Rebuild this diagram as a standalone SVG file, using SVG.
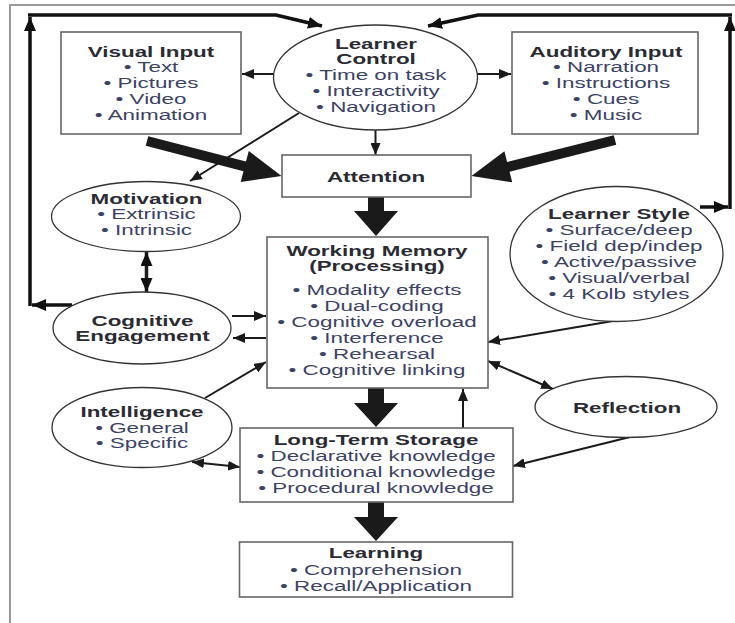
<svg xmlns="http://www.w3.org/2000/svg" width="735" height="623" viewBox="0 0 735 623">
<defs>
<style>
text{font-family:"Liberation Sans",Arial,sans-serif;font-size:14px;text-anchor:middle}
.t{font-weight:bold;fill:#2b2b33}
.i{fill:#3c4266}
.box{fill:#fff;stroke:#666;stroke-width:1.6}
.ell{fill:#fff;stroke:#333;stroke-width:1.3}
.thin{fill:none;stroke:#1a1a1a;stroke-width:2;marker-end:url(#ah)}
.dbl{fill:none;stroke:#1a1a1a;stroke-width:2;marker-end:url(#ah);marker-start:url(#ahs)}
.dblb{fill:none;stroke:#1a1a1a;stroke-width:3.5;marker-end:url(#ahb);marker-start:url(#ahbs)}
.fba{fill:none;stroke:#111;stroke-width:3.5;marker-end:url(#ahb)}
.big{fill:#1a1a1a}
</style>
<marker id="ah" viewBox="0 0 12 10" refX="12" refY="5" markerWidth="12" markerHeight="10" markerUnits="userSpaceOnUse" orient="auto"><path d="M0,0 L12,5 L0,10 Z" fill="#1a1a1a"/></marker>
<marker id="ahs" viewBox="0 0 12 10" refX="0" refY="5" markerWidth="12" markerHeight="10" markerUnits="userSpaceOnUse" orient="auto"><path d="M12,0 L0,5 L12,10 Z" fill="#1a1a1a"/></marker>
<marker id="ahb" viewBox="0 0 14 12" refX="14" refY="6" markerWidth="14" markerHeight="12" markerUnits="userSpaceOnUse" orient="auto"><path d="M0,0 L14,6 L0,12 Z" fill="#111"/></marker>
<marker id="ahbs" viewBox="0 0 14 12" refX="0" refY="6" markerWidth="14" markerHeight="12" markerUnits="userSpaceOnUse" orient="auto"><path d="M14,0 L0,6 L14,12 Z" fill="#111"/></marker>
</defs>
<rect width="735" height="623" fill="#fff"/>
<path d="M10,623 L10,5 L735,5" fill="none" stroke="#9a9a9a" stroke-width="2"/>

<g id="connectors">
<path class="fba" d="M72,305 L32,305"/>
<path class="fba" d="M30,306 L30,17"/>
<path class="fba" d="M28,15 L276,15 L322,26"/>
<path class="fba" d="M700,207 L728,207"/>
<path class="fba" d="M730,209 L730,17"/>
<path class="fba" d="M732,15 L478,15 L428,26"/>
<path class="thin" d="M274,74 L242,74"/>
<path class="thin" d="M477,74 L511,74"/>
<path class="thin" d="M375.5,130 L375.5,155"/>
<path class="thin" d="M299,113 L190,181"/>
<polygon class="big" transform="translate(147,141) rotate(14.6)" points="0,-5 101,-5 101,-16 139,0 101,16 101,5 0,5"/>
<polygon class="big" transform="translate(615,140) rotate(165.9)" points="0,-5 110,-5 110,-16 148,0 110,16 110,5 0,5"/>
<polygon class="big" points="368,197 384,197 384,211 398,211 376,236 354,211 368,211"/>
<polygon class="big" points="368,388 384,388 384,403 398,403 376,427 354,403 368,403"/>
<polygon class="big" points="368,502 384,502 384,517 398,517 376,541 354,517 368,517"/>
<path class="dblb" d="M146.5,252 L146.5,292"/>
<path class="thin" d="M232,316 L266,316"/>
<path class="thin" d="M266,338 L233,338"/>
<path class="thin" d="M613,321 L488,342"/>
<path class="dbl" d="M488,361 L553,389"/>
<path class="thin" d="M630,437 L513,466"/>
<path class="thin" d="M463,428 L463,389"/>
<path class="thin" d="M205,398 L266,362"/>
<path class="dbl" d="M192,462 L240,467"/>
</g>

<g id="visual-input">
<rect class="box" x="61" y="32" width="180" height="102"/>
<g transform="translate(151,0) scale(1.6 1)">
<text class="t" x="0" y="57">Visual Input</text>
<text class="i" x="0" y="72.5">• Text</text>
<text class="i" x="0" y="88.5">• Pictures</text>
<text class="i" x="0" y="104">• Video</text>
<text class="i" x="0" y="120">• Animation</text>
</g>
</g>

<g id="learner-control">
<ellipse class="ell" cx="375.5" cy="77.5" rx="102" ry="52.5"/>
<g transform="translate(376,0) scale(1.6 1)">
<text class="t" x="0" y="49">Learner</text>
<text class="t" x="0" y="64">Control</text>
<text class="i" x="0" y="80">• Time on task</text>
<text class="i" x="0" y="96">• Interactivity</text>
<text class="i" x="0" y="112">• Navigation</text>
</g>
</g>

<g id="auditory-input">
<rect class="box" x="512" y="32" width="186" height="102"/>
<g transform="translate(606,0) scale(1.6 1)">
<text class="t" x="0" y="57">Auditory Input</text>
<text class="i" x="0" y="72.5">• Narration</text>
<text class="i" x="0" y="88.5">• Instructions</text>
<text class="i" x="0" y="104">• Cues</text>
<text class="i" x="0" y="120">• Music</text>
</g>
</g>

<g id="attention">
<rect class="box" x="282" y="155" width="189" height="42"/>
<g transform="translate(376,0) scale(1.6 1)">
<text class="t" x="0" y="182">Attention</text>
</g>
</g>

<g id="motivation">
<ellipse class="ell" cx="146" cy="216.5" rx="94.5" ry="35"/>
<g transform="translate(146.5,0) scale(1.6 1)">
<text class="t" x="0" y="204">Motivation</text>
<text class="i" x="0" y="219.5">• Extrinsic</text>
<text class="i" x="0" y="235">• Intrinsic</text>
</g>
</g>

<g id="cognitive-engagement">
<ellipse class="ell" cx="142" cy="328" rx="89" ry="36"/>
<g transform="translate(142.5,0) scale(1.6 1)">
<text class="t" x="0" y="326">Cognitive</text>
<text class="t" x="0" y="341">Engagement</text>
</g>
</g>

<g id="working-memory">
<rect class="box" x="267" y="237" width="221" height="151"/>
<g transform="translate(377,0) scale(1.6 1)">
<text class="t" x="0" y="256">Working Memory</text>
<text class="t" x="0" y="271.5">(Processing)</text>
<text class="i" x="0" y="295">• Modality effects</text>
<text class="i" x="0" y="311.5">• Dual-coding</text>
<text class="i" x="0" y="327">• Cognitive overload</text>
<text class="i" x="0" y="343">• Interference</text>
<text class="i" x="0" y="359">• Rehearsal</text>
<text class="i" x="0" y="375">• Cognitive linking</text>
</g>
</g>

<g id="learner-style">
<ellipse class="ell" cx="616.5" cy="254" rx="106.5" ry="67.5"/>
<g transform="translate(619,0) scale(1.6 1)">
<text class="t" x="0" y="219">Learner Style</text>
<text class="i" x="0" y="235">• Surface/deep</text>
<text class="i" x="0" y="251.5">• Field dep/indep</text>
<text class="i" x="0" y="267">• Active/passive</text>
<text class="i" x="0" y="283">• Visual/verbal</text>
<text class="i" x="0" y="299">• 4 Kolb styles</text>
</g>
</g>

<g id="reflection">
<ellipse class="ell" cx="626" cy="407" rx="91" ry="30.5"/>
<g transform="translate(627,0) scale(1.6 1)">
<text class="t" x="0" y="413">Reflection</text>
</g>
</g>

<g id="intelligence">
<ellipse class="ell" cx="142" cy="427.5" rx="90" ry="40"/>
<g transform="translate(142,0) scale(1.6 1)">
<text class="t" x="0" y="417">Intelligence</text>
<text class="i" x="0" y="433">• General</text>
<text class="i" x="0" y="448.5">• Specific</text>
</g>
</g>

<g id="long-term-storage">
<rect class="box" x="240" y="428" width="273" height="74"/>
<g transform="translate(376,0) scale(1.6 1)">
<text class="t" x="0" y="445">Long-Term Storage</text>
<text class="i" x="0" y="461">• Declarative knowledge</text>
<text class="i" x="0" y="477">• Conditional knowledge</text>
<text class="i" x="0" y="493">• Procedural knowledge</text>
</g>
</g>

<g id="learning">
<rect class="box" x="239.5" y="542" width="273" height="55"/>
<g transform="translate(376,0) scale(1.6 1)">
<text class="t" x="0" y="558.5">Learning</text>
<text class="i" x="0" y="575">• Comprehension</text>
<text class="i" x="0" y="591">• Recall/Application</text>
</g>
</g>
</svg>
